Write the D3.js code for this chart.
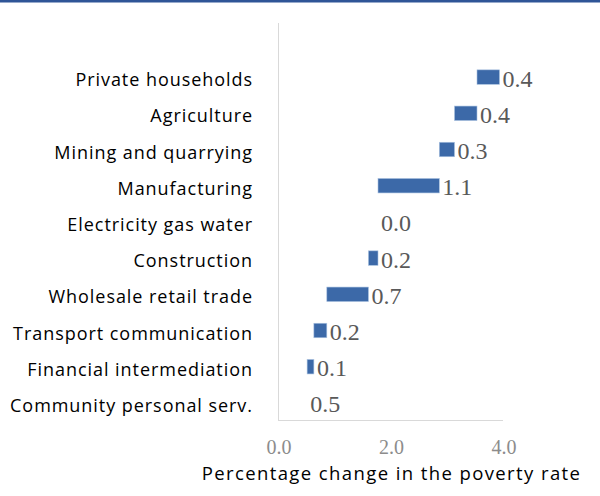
<!DOCTYPE html>
<html>
<head>
<meta charset="utf-8">
<script src="https://cdn.jsdelivr.net/npm/d3@7"></script>
<style>
  html, body { margin: 0; padding: 0; background: #fff; }
  svg { display: block; }
</style>
</head>
<body>
<svg id="chart" width="600" height="496"></svg>
<script>
// Categories, bottom (start of waterfall) to top
const categories = [
  "Community personal serv.",
  "Financial intermediation",
  "Transport communication",
  "Wholesale retail trade",
  "Construction",
  "Electricity gas water",
  "Manufacturing",
  "Mining and quarrying",
  "Agriculture",
  "Private households"
];
// Change in poverty rate contributed by each sector (percentage points)
const changes = [0.5, 0.12, 0.23, 0.74, 0.17, 0.0, 1.09, 0.27, 0.4, 0.4];
const xTicks = [0, 2, 4];
const axisTitle = "Percentage change in the poverty rate";

// Build waterfall table
let run = 0;
const rows = categories.map((c, i) => {
  const start = run;
  run += changes[i];
  return { cat: c, value: changes[i], start: start, end: run, base: i === 0 };
});

const svg = d3.select("#chart");

// top rule
svg.append("rect").attr("x", 0).attr("y", 0).attr("width", 600).attr("height", 2.5).attr("fill", "#2F5597");

const x = d3.scaleLinear().domain([0, 4]).range([279, 504]);
const y = d3.scaleBand().domain(categories.slice().reverse()).range([59, 421]).paddingInner(0.6).paddingOuter(0.3);

// axes lines
svg.append("line").attr("x1", 278.5).attr("x2", 278.5).attr("y1", 23).attr("y2", 420.5)
  .attr("stroke", "#d9d9d9").attr("stroke-width", 1);
svg.append("line").attr("x1", 278).attr("x2", 503).attr("y1", 420.5).attr("y2", 420.5)
  .attr("stroke", "#d9d9d9").attr("stroke-width", 1);

// bars
svg.selectAll("rect.bar").data(rows.filter(d => !d.base && d.value > 0)).enter().append("rect")
  .attr("class", "bar")
  .attr("x", d => x(d.start))
  .attr("width", d => Math.max(0, x(d.end) - x(d.start)))
  .attr("y", d => y(d.cat))
  .attr("height", y.bandwidth())
  .attr("fill", "#3C69A8")
  .attr("stroke", "#A9C1E0")
  .attr("stroke-width", 0.6);

// data labels
svg.selectAll("text.val").data(rows).enter().append("text")
  .attr("class", "val")
  .attr("x", d => x(d.end) + 3)
  .attr("y", d => y(d.cat) + y.bandwidth() / 2 + 1.5)
  .attr("dominant-baseline", "central")
  .attr("font-family", "Liberation Serif, Times New Roman, serif")
  .attr("font-size", 24)
  .attr("fill", "#595959")
  .text(d => d.value.toFixed(1));

// category labels
svg.selectAll("text.cat").data(rows).enter().append("text")
  .attr("class", "cat")
  .attr("x", 253)
  .attr("y", d => y(d.cat) + y.bandwidth() / 2 + 9)
  .attr("text-anchor", "end")
  .attr("font-family", "Open Sans, sans-serif")
  .attr("font-size", 18)
  .attr("letter-spacing", 0.95)
  .attr("fill", "#000")
  .text(d => d.cat);

// x tick labels
svg.selectAll("text.tick").data(xTicks).enter().append("text")
  .attr("class", "tick")
  .attr("x", d => x(d))
  .attr("y", 454)
  .attr("text-anchor", "middle")
  .attr("font-family", "Liberation Serif, Times New Roman, serif")
  .attr("font-size", 20)
  .attr("fill", "#8C8C8C")
  .text(d => d.toFixed(1));

// axis title
svg.append("text")
  .attr("x", 391.5)
  .attr("y", 479.5)
  .attr("text-anchor", "middle")
  .attr("font-family", "Open Sans, sans-serif")
  .attr("font-size", 18.5)
  .attr("letter-spacing", 1.4)
  .attr("fill", "#000")
  .text(axisTitle);
</script>
</body>
</html>
